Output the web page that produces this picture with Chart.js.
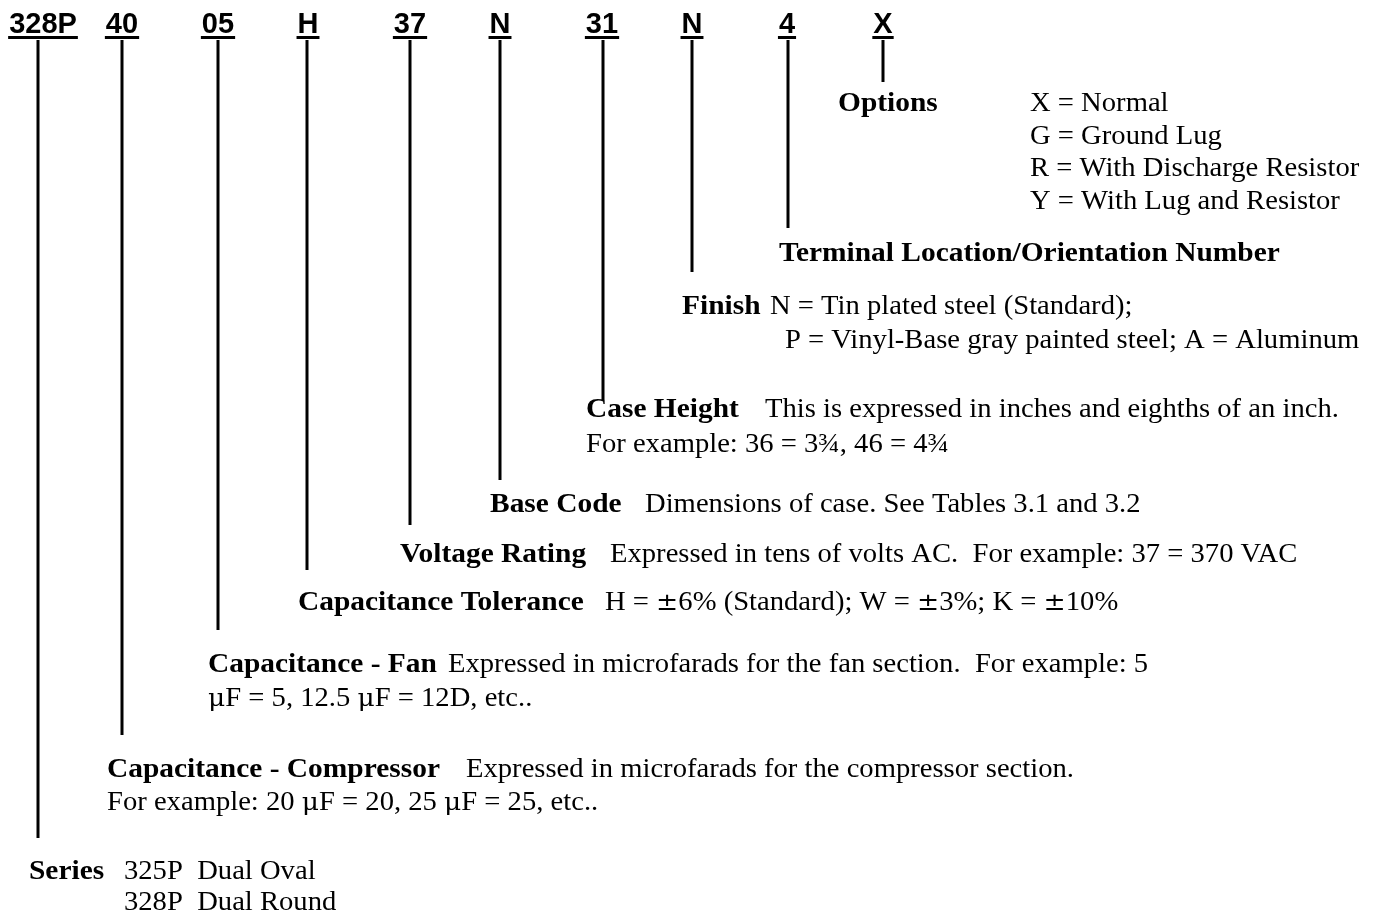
<!DOCTYPE html>
<html>
<head>
<meta charset="utf-8">
<script src="https://cdn.jsdelivr.net/npm/chart.js@4"></script>
<style>
  html, body { margin: 0; padding: 0; background: #fff; }
  #wrap { width: 1375px; height: 914px; }
</style>
</head>
<body>
<div id="wrap"><canvas id="partChart" width="1375" height="914"></canvas></div>
<script>
// part number segments, left to right
const codes = ["328P", "40", "05", "H", "37", "N", "31", "N", "4", "X"];
// where each segment sits along the part number, where its leader drops and how far down it runs
const codeX = [43, 122, 218, 308, 410, 500, 602, 692, 787, 883];
const leaderX = [38, 122, 218, 307, 410, 500, 603, 692, 788, 883];
const leaderEnd = [838, 735, 630, 570, 525, 480, 400, 272, 228, 82];

// bold captions, one per segment
const titles = [
  "Series", "Capacitance - Compressor", "Capacitance - Fan", "Capacitance Tolerance",
  "Voltage Rating", "Base Code", "Case Height", "Finish",
  "Terminal Location/Orientation Number", "Options"
];
// plain text following each caption (first line)
const details = [
  "325P  Dual Oval",
  "Expressed in microfarads for the compressor section.",
  "Expressed in microfarads for the fan section.  For example: 5",
  "H = \u00b16% (Standard); W = \u00b13%; K = \u00b110%",
  "Expressed in tens of volts AC.  For example: 37 = 370 VAC",
  "Dimensions of case. See Tables 3.1 and 3.2",
  "This is expressed in inches and eighths of an inch.",
  "N = Tin plated steel (Standard);",
  "",
  "X = Normal"
];
// continuation lines
const moreLines = [
  ["328P  Dual Round"],
  ["For example: 20 \u03bcF = 20, 25 \u03bcF = 25, etc.."],
  ["\u03bcF = 5, 12.5 \u03bcF = 12D, etc.."],
  [], [], [],
  ["For example: 36 = 3\u00be, 46 = 4\u00be"],
  ["P = Vinyl-Base gray painted steel; A = Aluminum"],
  [],
  ["G = Ground Lug", "R = With Discharge Resistor", "Y = With Lug and Resistor"]
];

// layout of the caption blocks (page coordinates)
const layout = [
  { tx: 29,  y: 870, dx: 124, lx: 124, gap: 31 },
  { tx: 107, y: 768, dx: 466, lx: 107, gap: 33 },
  { tx: 208, y: 663, dx: 448, lx: 208, gap: 34 },
  { tx: 298, y: 601, dx: 605, lx: 605, gap: 33 },
  { tx: 400, y: 553, dx: 610, lx: 610, gap: 33 },
  { tx: 490, y: 503, dx: 645, lx: 645, gap: 33 },
  { tx: 586, y: 408, dx: 765, lx: 586, gap: 35 },
  { tx: 682, y: 305, dx: 770, lx: 785, gap: 34 },
  { tx: 779, y: 252, dx: 0,   lx: 0,   gap: 33 },
  { tx: 838, y: 102, dx: 1030, lx: 1030, gap: 32.7 }
];

const SERIF = '"Liberation Serif", "DejaVu Serif", serif';
const SYMBOL = '"DejaVu Serif", serif';
const SANS = '"Liberation Sans", Arial, sans-serif';

const leaderSets = codes.map((c, i) => ({
  label: c,
  data: [{ x: leaderX[i], y: 40 }, { x: leaderX[i], y: leaderEnd[i] }],
  showLine: true,
  borderColor: "#000",
  borderWidth: 3,
  pointRadius: 0,
  fill: false
}));

// the original face is a wide Garamond, so stretch Times a little;
// ± and µ are taken from DejaVu, which is closer to the wide originals
function wideText(ctx, text, x, y, sx, weight) {
  ctx.save();
  ctx.translate(x, y);
  ctx.scale(sx, 1);
  let pos = 0;
  const runs = text.match(/[\u00b1\u03bc]+|[^\u00b1\u03bc]+/g) || [];
  runs.forEach((r) => {
    const sym = /[\u00b1\u03bc]/.test(r);
    ctx.font = weight + (sym ? "25px " + SYMBOL : "27px " + SERIF);
    ctx.fillText(r, pos, 0);
    pos += ctx.measureText(r).width;
  });
  ctx.restore();
}

const textPlugin = {
  id: "partText",
  afterDraw(chart) {
    const ctx = chart.ctx;
    const xs = chart.scales.x, ys = chart.scales.y;
    ctx.save();
    ctx.fillStyle = "#000";
    ctx.textBaseline = "alphabetic";
    ctx.textAlign = "left";

    // code segments with underline
    ctx.font = "bold 29px " + SANS;
    codes.forEach((c, i) => {
      const cx = xs.getPixelForValue(codeX[i]);
      const w = ctx.measureText(c).width;
      ctx.fillText(c, cx - w / 2, ys.getPixelForValue(33));
      ctx.fillRect(cx - w / 2 - 1, ys.getPixelForValue(36), w + 2, 3);
    });

    // captions
    titles.forEach((t, i) => {
      const L = layout[i];
      const base = ys.getPixelForValue(L.y + 9);
      wideText(ctx, t, xs.getPixelForValue(L.tx), base, 1.09, "bold ");
      if (details[i]) wideText(ctx, details[i], xs.getPixelForValue(L.dx), base, 1.06, "");
      moreLines[i].forEach((line, k) => {
        wideText(ctx, line, xs.getPixelForValue(L.lx), ys.getPixelForValue(L.y + 9 + L.gap * (k + 1)), 1.06, "");
      });
    });
    ctx.restore();
  }
};

new Chart(document.getElementById("partChart"), {
  type: "scatter",
  data: { datasets: leaderSets },
  options: {
    responsive: false,
    animation: false,
    layout: { padding: 0 },
    plugins: { legend: { display: false }, tooltip: { enabled: false } },
    scales: {
      x: { type: "linear", min: 0, max: 1375, display: false },
      y: { type: "linear", min: 0, max: 914, reverse: true, display: false }
    }
  },
  plugins: [textPlugin]
});
</script>
</body>
</html>
